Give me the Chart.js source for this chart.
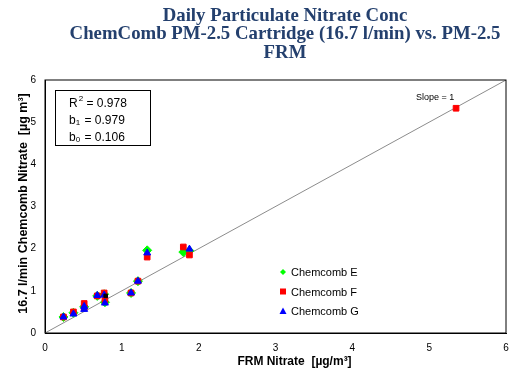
<!DOCTYPE html>
<html lang="en">
<head>
    <meta charset="UTF-8">
    <title>Daily Particulate Nitrate Conc</title>
    <script src="https://cdn.jsdelivr.net/npm/chart.js"></script>
    <style>
        body { margin: 0; background: #fff; }
        #chart-container { width: 515px; height: 374px; }
    </style>
</head>
<body>
    <div id="chart-container">
        <canvas id="nitrateChart"></canvas>
    </div>

    <script>
        // Title / labels
        const titleLines = ['Daily Particulate Nitrate Conc', 'ChemComb PM-2.5 Cartridge (16.7 l/min) vs. PM-2.5', 'FRM'];
        const xTitle = 'FRM Nitrate  [µg/m³]';
        const yTitle = '16.7 l/min Chemcomb Nitrate  [µg m³]';
        const statLines = [['R', '2', ' = 0.978'], ['b', '1', ' = 0.979'], ['b', '0', ' = 0.106']];
        const slopeLabel = 'Slope = 1';

        // FRM (x) vs Chemcomb (y)
        const chemcombE = [
            [0.24, 0.38], [0.37, 0.48], [0.51, 0.62], [0.68, 0.88], [0.77, 0.92], [0.78, 0.73],
            [1.12, 0.95], [1.21, 1.23], [1.33, 1.96], [1.80, 1.92], [1.88, 1.95]
        ];
        const chemcombF = [
            [0.24, 0.38], [0.37, 0.50], [0.51, 0.70], [0.51, 0.60], [0.68, 0.88], [0.77, 0.95],
            [0.78, 0.79], [1.12, 0.95], [1.21, 1.23], [1.33, 1.80], [1.80, 2.04], [1.88, 1.85], [5.35, 5.33]
        ];
        const chemcombG = [
            [0.24, 0.38], [0.37, 0.45], [0.51, 0.56], [0.51, 0.63], [0.68, 0.89], [0.77, 0.90],
            [0.78, 0.71], [1.12, 0.95], [1.21, 1.23], [1.33, 1.90], [1.88, 1.99]
        ];
        const extraPoint = [[0.79, 0.88]];
        const slopeLine = [[0, 0], [6, 6]];

        const toXY = arr => arr.map(p => ({ x: p[0], y: p[1] }));

        // draws titles, stats box, slope label and legend
        const decorations = {
            id: 'decorations',
            afterDraw(chart) {
                const c = chart.ctx;
                const area = chart.chartArea;
                c.save();

                // frame
                c.strokeStyle = '#000';
                c.lineWidth = 1;
                c.strokeRect(area.left, area.top, area.right - area.left, area.bottom - area.top);

                // main title
                c.fillStyle = '#24406e';
                c.font = 'bold 18.8px "Liberation Serif", "Times New Roman", serif';
                c.textAlign = 'center';
                c.textBaseline = 'middle';
                titleLines.forEach((t, i) => c.fillText(t, 285, 16 + i * 18.5));

                // axis titles
                c.fillStyle = '#000';
                c.font = 'bold 12px "Liberation Sans", Arial, sans-serif';
                c.fillText(xTitle, (area.left + area.right) / 2 + 19, 362);
                c.save();
                c.translate(24, (area.top + area.bottom) / 2 - 3);
                c.rotate(-Math.PI / 2);
                c.font = 'bold 12.5px "Liberation Sans", Arial, sans-serif';
                c.fillText(yTitle, 0, 0);
                c.restore();

                // stats box
                c.lineWidth = 1;
                c.strokeRect(55.5, 90.5, 95, 55);
                c.textAlign = 'left';
                c.textBaseline = 'alphabetic';
                statLines.forEach((s, i) => {
                    const y = 107 + i * 17;
                    let x = 69;
                    c.font = '12px "Liberation Sans", Arial, sans-serif';
                    c.fillText(s[0], x, y);
                    x += c.measureText(s[0]).width;
                    c.font = '8px "Liberation Sans", Arial, sans-serif';
                    if (s[1] === '2') c.fillText(s[1], x + 1, y - 6);
                    else c.fillText(s[1], x, y + 1);
                    x += c.measureText(s[1]).width + 1;
                    c.font = '12px "Liberation Sans", Arial, sans-serif';
                    c.fillText(s[2], x, y);
                });

                // slope label
                c.font = '9px "Liberation Sans", Arial, sans-serif';
                c.fillText(slopeLabel, 416, 100);

                // legend
                const items = chart.data.datasets.filter(d => d.inLegend);
                c.font = '11px "Liberation Sans", Arial, sans-serif';
                c.textBaseline = 'middle';
                items.forEach((d, i) => {
                    const y = 272 + i * 19.5;
                    const x = 283;
                    c.fillStyle = d.backgroundColor;
                    c.beginPath();
                    if (d.pointStyle === 'rectRot') {
                        c.moveTo(x, y - 3); c.lineTo(x + 3, y); c.lineTo(x, y + 3); c.lineTo(x - 3, y);
                    } else if (d.pointStyle === 'rect') {
                        c.rect(x - 3, y - 3, 6, 6);
                    } else {
                        c.moveTo(x, y - 3.5); c.lineTo(x + 3.5, y + 3); c.lineTo(x - 3.5, y + 3);
                    }
                    c.closePath();
                    c.fill();
                    c.fillStyle = '#000';
                    c.fillText(d.label, x + 8, y + 1);
                });
                c.restore();
            }
        };

        const ctx = document.getElementById('nitrateChart').getContext('2d');
        const nitrateChart = new Chart(ctx, {
            type: 'scatter',
            data: {
                datasets: [
                    {
                        type: 'line',
                        label: 'Slope',
                        data: toXY(slopeLine),
                        borderColor: '#8c8c8c',
                        borderWidth: 1,
                        pointRadius: 0,
                        fill: false,
                        order: 5
                    },
                    {
                        label: 'Chemcomb E',
                        inLegend: true,
                        data: toXY(chemcombE),
                        pointStyle: 'rectRot',
                        backgroundColor: '#00ff00',
                        borderColor: '#00ff00',
                        pointRadius: 4.5,
                        order: 4
                    },
                    {
                        label: 'Chemcomb F',
                        inLegend: true,
                        data: toXY(chemcombF),
                        pointStyle: 'rect',
                        backgroundColor: '#ff0000',
                        borderColor: '#ff0000',
                        pointRadius: 4,
                        order: 3
                    },
                    {
                        label: 'Chemcomb G',
                        inLegend: true,
                        data: toXY(chemcombG),
                        pointStyle: 'triangle',
                        backgroundColor: '#0000ff',
                        borderColor: '#0000ff',
                        pointRadius: 4,
                        order: 2
                    },
                    {
                        label: 'other',
                        data: toXY(extraPoint),
                        pointStyle: 'rect',
                        backgroundColor: '#000',
                        borderColor: '#000',
                        pointRadius: 2.5,
                        order: 1
                    }
                ]
            },
            options: {
                responsive: true,
                maintainAspectRatio: false,
                animation: false,
                layout: { padding: { top: 80, right: 9, left: 0, bottom: 0 } },
                plugins: {
                    legend: { display: false },
                    tooltip: { enabled: false }
                },
                scales: {
                    x: {
                        type: 'linear',
                        min: 0, max: 6,
                        afterFit: s => { s.height = 41; },
                        grid: { display: false, drawTicks: true, tickLength: 5, tickColor: '#000' },
                        border: { color: '#000', width: 1 },
                        ticks: { stepSize: 1, color: '#000', padding: 4, font: { family: '"Liberation Sans", Arial', size: 10 } }
                    },
                    y: {
                        min: 0, max: 6,
                        afterFit: s => { s.width = 45; },
                        grid: { display: false, drawTicks: true, tickLength: 5, tickColor: '#000' },
                        border: { color: '#000', width: 1 },
                        ticks: { stepSize: 1, color: '#000', padding: 4, font: { family: '"Liberation Sans", Arial', size: 10 } }
                    }
                }
            },
            plugins: [decorations]
        });
    </script>
</body>
</html>
